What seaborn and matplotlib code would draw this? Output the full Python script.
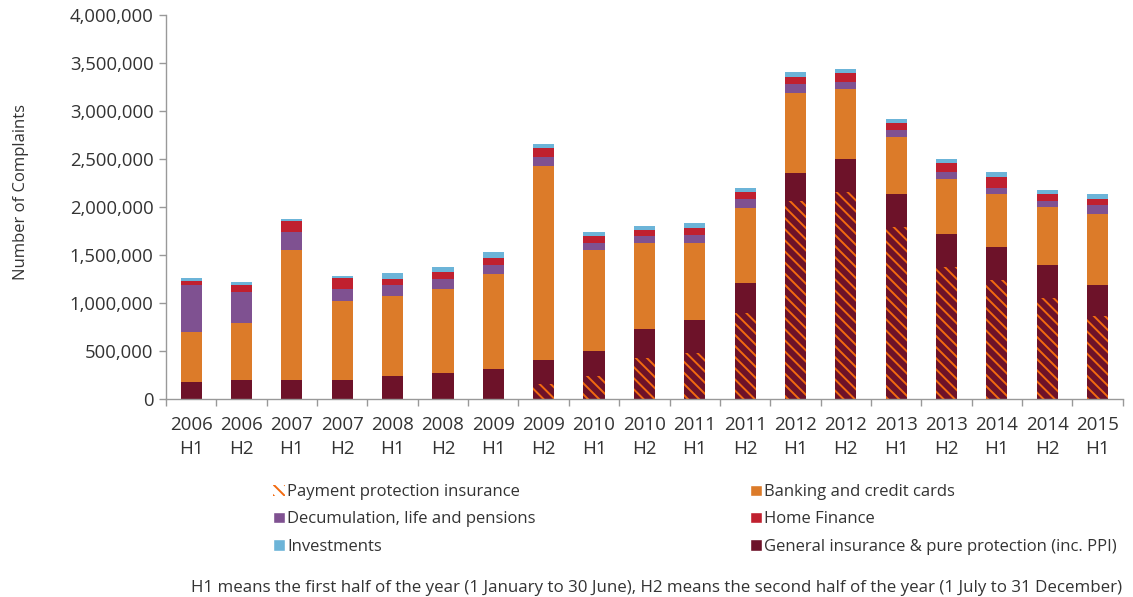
import numpy as np
import pandas as pd
import seaborn as sns
import matplotlib.pyplot as plt
from matplotlib.patches import Patch
from matplotlib.ticker import FuncFormatter, FixedLocator

sns.set_style("white")
plt.rcParams['font.family'] = ['Open Sans', 'DejaVu Sans']
plt.rcParams['hatch.linewidth'] = 1.4

periods = ['2006\nH1', '2006\nH2', '2007\nH1', '2007\nH2', '2008\nH1', '2008\nH2', '2009\nH1',
           '2009\nH2', '2010\nH1', '2010\nH2', '2011\nH1', '2011\nH2', '2012\nH1', '2012\nH2',
           '2013\nH1', '2013\nH2', '2014\nH1', '2014\nH2', '2015\nH1']

# PPI is part of general insurance (hatched overlay at the bottom)
ppi = [0, 0, 0, 0, 0, 0, 0, 153000, 243000, 430000, 476000, 893000, 2066000, 2160000,
       1789000, 1378000, 1240000, 1055000, 868000]
general = [174000, 198000, 198000, 198000, 243000, 268000, 313000, 406000, 500000, 726000,
           820000, 1212000, 2357000, 2497000, 2132000, 1716000, 1580000, 1396000, 1188000]
banking = [527000, 597000, 1354000, 826000, 833000, 878000, 993000, 2024000, 1052000, 902000,
           808000, 781000, 833000, 735000, 594000, 576000, 552000, 601000, 736000]
decumulation = [486000, 323000, 184000, 119000, 111000, 107000, 87000, 90000, 73000, 70000,
                83000, 90000, 87000, 73000, 76000, 70000, 69000, 69000, 97000]
home_finance = [45000, 70000, 118000, 115000, 66000, 70000, 73000, 94000, 70000, 66000,
                73000, 70000, 73000, 91000, 70000, 94000, 115000, 67000, 66000]
investments = [25000, 28000, 21000, 24000, 55000, 52000, 69000, 42000, 45000, 42000,
               46000, 48000, 52000, 45000, 45000, 42000, 46000, 45000, 49000]

c_general = '#6d1229'
c_banking = '#dc7b29'
c_decum = '#7f5191'
c_home = '#c0202f'
c_invest = '#6cb4d8'
c_hatch = '#f26a10'
c_text = '#333333'

df = pd.DataFrame({'period': periods})
df['general'] = general
df['banking'] = df['general'] + banking
df['decum'] = df['banking'] + decumulation
df['home'] = df['decum'] + home_finance
df['invest'] = df['home'] + investments
df['ppi'] = ppi

fig = plt.figure(figsize=(11.33, 5.97), dpi=100)
ax = fig.add_axes([0.1465, 0.3317, 0.8445, 0.6433])

# draw cumulative totals from the top down so each layer covers the one above it
layers = [('invest', c_invest), ('home', c_home), ('decum', c_decum),
          ('banking', c_banking), ('general', c_general)]
for col, color in layers:
    sns.barplot(data=df, x='period', y=col, color=color, width=0.42, linewidth=0,
                saturation=1, ax=ax)
sns.barplot(data=df, x='period', y='ppi', color=c_general, width=0.42, linewidth=0,
            saturation=1, edgecolor=c_hatch, hatch='\\\\\\', ax=ax)

ax.set_ylim(0, 4000000)
ax.set_xlim(-0.5, len(periods) - 0.5)
ax.yaxis.set_major_formatter(FuncFormatter(lambda v, p: f'{int(v):,}'))
ax.set_yticks(np.arange(0, 4000001, 500000))
ax.set_xlabel('')
ax.set_ylabel('Number of Complaints', fontsize=12, color=c_text)
ax.yaxis.set_label_coords(-0.143, 0.538)
ax.tick_params(axis='y', labelsize=13.3, colors=c_text, length=5, width=1, color='#999999',
               left=True, pad=4)
ax.tick_params(axis='x', labelsize=13.5, colors=c_text, length=0, pad=12.5)
ax.xaxis.set_minor_locator(FixedLocator(np.arange(-0.5, len(periods), 1)))
ax.tick_params(axis='x', which='minor', bottom=True, length=5, width=1, color='#999999')
for lab in ax.get_xticklabels():
    lab.set_linespacing(1.4)

sns.despine(ax=ax)
for side in ['left', 'bottom']:
    ax.spines[side].set_color('#999999')
    ax.spines[side].set_linewidth(1)

handles_left = [Patch(facecolor='white', edgecolor=c_hatch, hatch='\\\\\\', linewidth=0,
                      label='Payment protection insurance'),
                Patch(facecolor=c_decum, label='Decumulation, life and pensions'),
                Patch(facecolor=c_invest, label='Investments')]
handles_right = [Patch(facecolor=c_banking, label='Banking and credit cards'),
                 Patch(facecolor=c_home, label='Home Finance'),
                 Patch(facecolor=c_general, label='General insurance & pure protection (inc. PPI)')]
leg_kw = dict(frameon=False, fontsize=12, handlelength=0.7, handleheight=0.7,
              handletextpad=0.15, labelspacing=0.67, labelcolor=c_text, loc='upper left')
leg1 = fig.legend(handles=handles_left, bbox_to_anchor=(0.2279, 0.214), **leg_kw)
leg2 = fig.legend(handles=handles_right, bbox_to_anchor=(0.6489, 0.214), **leg_kw)

fig.text(0.5794, 0.0151, 'H1 means the first half of the year (1 January to 30 June), '
         'H2 means the second half of the year (1 July to 31 December)',
         ha='center', va='center', fontsize=12.2, color=c_text)

fig.savefig('out.png', dpi=100)
plt.close(fig)
